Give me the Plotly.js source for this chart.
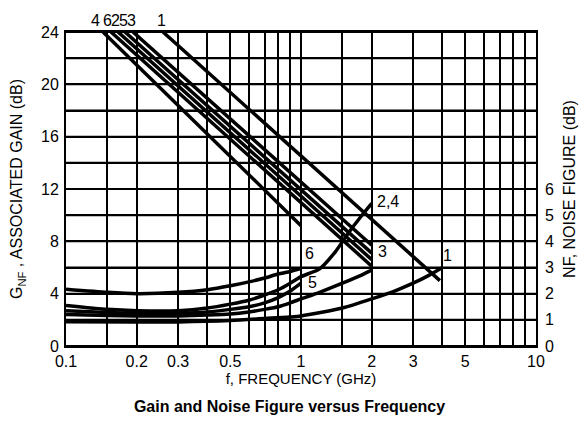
<!DOCTYPE html>
<html>
<head>
<meta charset="utf-8">
<script src="https://cdn.plot.ly/plotly-3.0.1.min.js"></script>
<style>html,body{margin:0;padding:0;background:#fff;}#chart{width:579px;height:427px;}</style>
</head>
<body>
<div id="chart"></div>
<script>
// ---- data ----
const freqTickVals = [0.1,0.15,0.2,0.3,0.4,0.5,0.6,0.7,0.8,0.9,1,1.5,2,3,4,5,6,7,8,9,10];
const freqTickText = ['0.1','','0.2','0.3','','0.5','','','','','1','','2','3','','5','','','','','10'];
const gainTickVals = [0,2,4,6,8,10,12,14,16,18,20,22,24];
const gainTickText = ['0','','4','','8','','12','','16','','20','','24'];
const nfTickVals = [0,1,2,3,4,5,6];

// associated gain lines (dB): start/end points
const gainNames = ['4','6','2','5','3','1'];
const gainFreq = [[0.1437,1.0],[0.1554,2.0],[0.1665,2.0],[0.1782,2.0],[0.1928,2.0],[0.2587,3.9]];
const gainVals = [[24,9.2],[24,6.1],[24,6.6],[24,7.1],[24,7.7],[24,5.0]];

// noise figure curves (dB)
const nf6Freq = [0.1,0.15,0.2,0.3,0.4,0.5,0.6,0.7,0.8,0.9,1.0];
const nf6Vals = [2.17,2.05,2.0,2.05,2.15,2.3,2.45,2.6,2.75,2.85,2.97];
const nf24Freq = [0.1,0.15,0.2,0.3,0.4,0.5,0.6,0.7,0.8,0.9,1.0,1.2,1.4,1.6,1.8,2.0];
const nf24Vals = [1.55,1.4,1.35,1.35,1.45,1.6,1.75,1.95,2.15,2.4,2.65,2.95,3.6,4.35,4.95,5.45];
const nf5Freq = [0.1,0.15,0.2,0.3,0.4,0.5,0.6,0.7,0.8,0.9,1.0];
const nf5Vals = [1.35,1.28,1.25,1.25,1.3,1.4,1.5,1.65,1.85,2.1,2.4];
const nf3Freq = [0.1,0.15,0.2,0.3,0.4,0.5,0.6,0.7,0.8,0.9,1.0,1.2,1.5,1.8,2.0];
const nf3Vals = [1.2,1.17,1.15,1.15,1.18,1.22,1.3,1.4,1.5,1.65,1.8,2.05,2.4,2.7,2.9];
const nf1Freq = [0.1,0.2,0.3,0.5,0.7,1.0,1.5,2.0,2.5,3.0,3.5,4.0];
const nf1Vals = [0.93,0.92,0.92,0.97,1.05,1.15,1.45,1.8,2.1,2.4,2.7,3.0];

const nfNames = ['6','2,4','5','3','1'];
const nfFreqs = [nf6Freq,nf24Freq,nf5Freq,nf3Freq,nf1Freq];
const nfVals = [nf6Vals,nf24Vals,nf5Vals,nf3Vals,nf1Vals];

const FONT = '"Liberation Sans", Arial, Helvetica, sans-serif';
const lineStyle = {color:'#000', width:3.5};

const traces = [];
gainNames.forEach((n,i)=>{
  traces.push({x:gainFreq[i], y:gainVals[i], type:'scatter', mode:'lines', name:'G '+n,
    line:lineStyle, xaxis:'x', yaxis:'y', showlegend:false, hoverinfo:'skip'});
});
nfNames.forEach((n,i)=>{
  traces.push({x:nfFreqs[i], y:nfVals[i], type:'scatter', mode:'lines', name:'NF '+n,
    line:Object.assign({shape:'spline', smoothing:0.6}, lineStyle), xaxis:'x', yaxis:'y2', showlegend:false, hoverinfo:'skip'});
});

const px2lg = px => -1 + (px-66)/235;
const annotations = [];
// labels at top of gain lines
[['4',95],['6',107],['2',115],['5',123],['3',131],['1',161]].forEach(([t,px])=>{
  annotations.push({text:t, x:px2lg(px), y:(346-20)/314, xref:'x', yref:'paper', yanchor:'middle', showarrow:false,
    font:{family:FONT, size:16, color:'#000'}});
});
// curve labels
[['2,4',388,202],['3',382,252],['6',309,254],['5',312,283],['1',447,256]].forEach(([t,px,py])=>{
  annotations.push({text:t, x:px2lg(px), y:(346-py)/13.08, xref:'x', yref:'y', showarrow:false,
    font:{family:FONT, size:16, color:'#000'}});
});

// horizontal grid reinforced with shapes at the gain tick values
const shapes = gainTickVals.map(v => ({type:'line', xref:'paper', x0:0, x1:1, yref:'y', y0:v, y1:v,
  line:{color:'#000', width:2}, layer:'below'}));

const gridStyle = {showgrid:true, gridcolor:'#000', gridwidth:2};
const layout = {
  width:579, height:427,
  margin:{l:66, r:43, t:32, b:81},
  paper_bgcolor:'#fff', plot_bgcolor:'#fff',
  showlegend:false,
  font:{family:FONT, color:'#000', size:16},
  title:{text:'<b>Gain and Noise Figure versus Frequency</b>', x:0.5, xanchor:'center',
    y:1-406/427, yanchor:'middle', yref:'container',
    font:{family:FONT, size:16, color:'#000'}},
  xaxis:Object.assign({type:'log', range:[-1,1], tickvals:freqTickVals, ticktext:freqTickText,
    zeroline:false, showline:true, mirror:true, linecolor:'#000', linewidth:2,
    ticks:'', ticklabelstandoff:0, tickfont:{family:FONT, size:16, color:'#000'},
    title:{text:'f, FREQUENCY (GHz)', standoff:3, font:{family:FONT, size:15, color:'#000'}}}, gridStyle),
  yaxis:Object.assign({range:[0,24], tickvals:gainTickVals, ticktext:gainTickText,
    zeroline:false, showline:true, mirror:true, linecolor:'#000', linewidth:2,
    ticks:'', ticklabelstandoff:2, tickfont:{family:FONT, size:16, color:'#000'},
    title:{text:'G<sub>NF</sub> , ASSOCIATED GAIN (dB)', standoff:14, font:{family:FONT, size:16, color:'#000'}}}, gridStyle),
  yaxis2:{range:[0,12], overlaying:'y', side:'right', tickvals:nfTickVals,
    showgrid:false, zeroline:false, showline:false,
    ticks:'', ticklabelstandoff:8, tickfont:{family:FONT, size:16, color:'#000'},
    title:{text:'NF, NOISE FIGURE (dB)', standoff:10, font:{family:FONT, size:16, color:'#000'}}},
  shapes:shapes,
  annotations:annotations
};

Plotly.newPlot('chart', traces, layout, {displayModeBar:false});
</script>
</body>
</html>
